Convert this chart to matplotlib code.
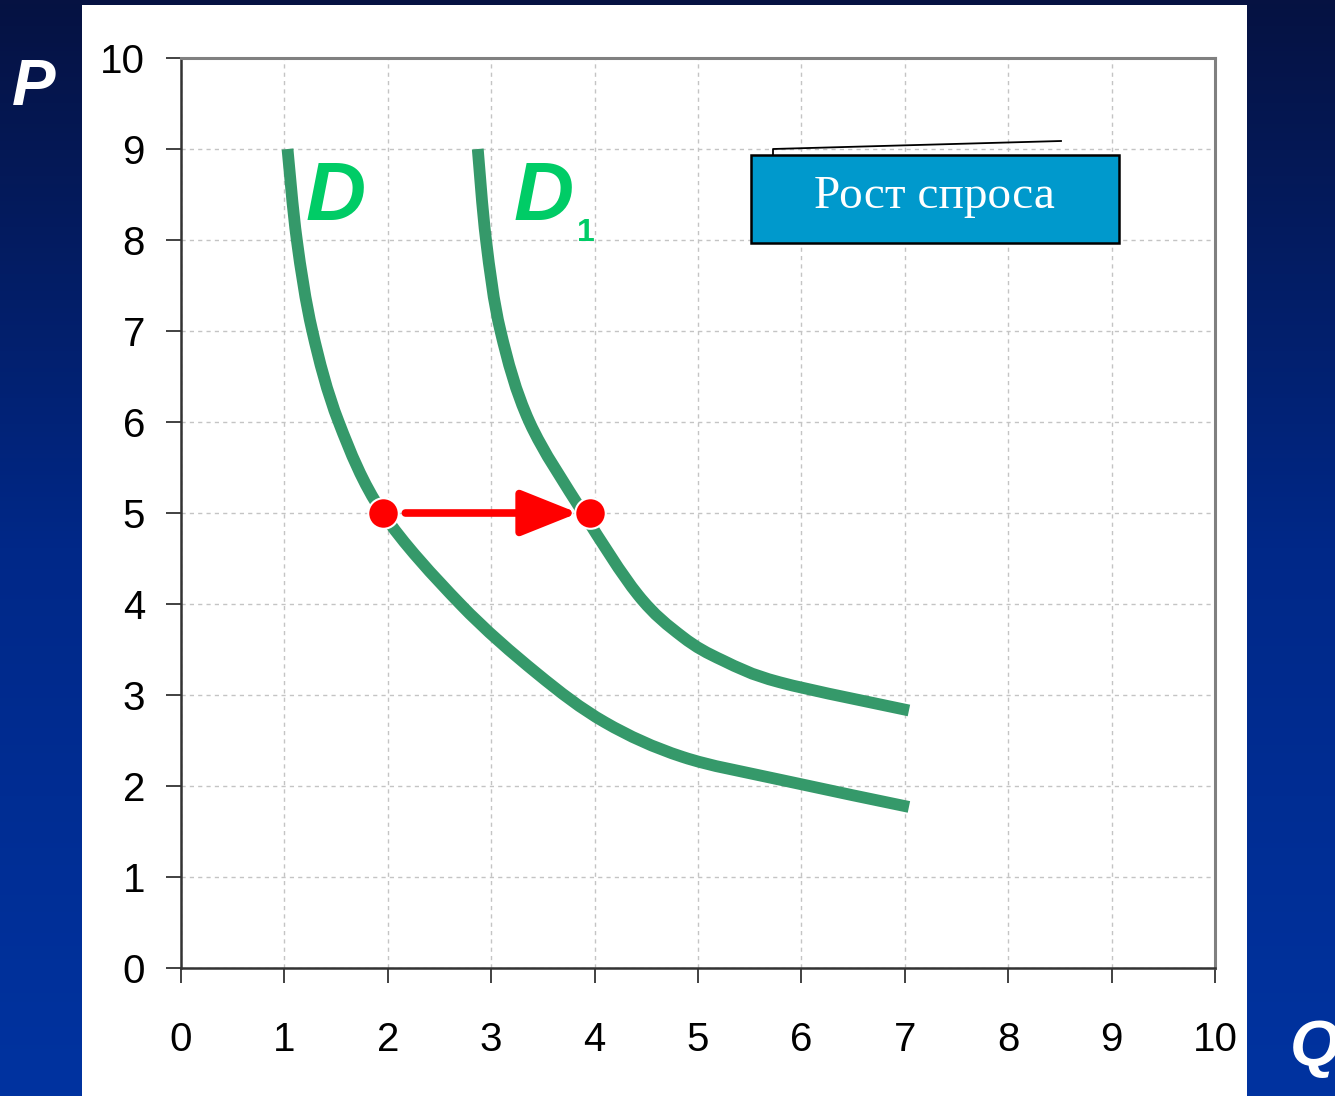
import numpy as np
import matplotlib
matplotlib.use("Agg")
import matplotlib.pyplot as plt
from matplotlib.patches import Rectangle, PathPatch
from matplotlib.path import Path
from matplotlib.lines import Line2D

# demand curves
Q_D = [1.03, 1.12, 1.27, 1.525, 1.95, 2.70, 3.44, 4.10, 4.85, 5.79, 7.04]
P_D = [9.00, 8.00, 7.00, 6.00, 5.00, 4.00, 3.24, 2.70, 2.32, 2.07, 1.77]

Q_D1 = [2.87, 2.95, 3.09, 3.37, 3.89, 4.42, 4.85, 5.24, 5.79, 7.04]
P_D1 = [9.00, 8.00, 7.00, 6.00, 5.00, 4.10, 3.64, 3.38, 3.14, 2.83]

# equilibrium points before / after
pts_Q = [1.95, 3.96]
pts_P = [5, 5]

ticks = list(range(0, 11))
box_text = "Рост спроса"


def smooth_path(xs, ys):
    # smoothed line like excel: bezier segments through the points
    p = np.column_stack([xs, ys])
    n = len(p)
    verts = [p[0]]
    codes = [Path.MOVETO]
    for i in range(n - 1):
        p0 = p[i - 1] if i > 0 else p[i]
        p3 = p[i + 2] if i + 2 < n else p[i + 1]
        c1 = p[i] + (p[i + 1] - p0) / 6
        c2 = p[i + 1] - (p3 - p[i]) / 6
        verts += [c1, c2, p[i + 1]]
        codes += [Path.CURVE4] * 3
    return Path(verts, codes)


W, H = 1335, 1096
fig = plt.figure(figsize=(W / 100, H / 100), dpi=100)

# blue gradient background
bg = fig.add_axes([0, 0, 1, 1])
top = np.array([6, 18, 66]) / 255
mid = np.array([0, 40, 136]) / 255
bot = np.array([0, 51, 160]) / 255
t = np.linspace(0, 1, 256)[:, None]
grad = np.where(t < 0.5, top + (mid - top) * (t / 0.5), mid + (bot - mid) * ((t - 0.5) / 0.5))
bg.imshow(grad[:, None, :].repeat(2, axis=1), aspect='auto', extent=[0, 1, 0, 1])
bg.set_xlim(0, 1)
bg.set_ylim(0, 1)
bg.axis('off')

# white slide panel
bg.add_patch(Rectangle((82 / W, 0), (1247 - 82) / W, (H - 5) / H, facecolor='white', edgecolor='none'))

ax = fig.add_axes([181 / W, 128 / H, 1034 / W, 910 / H])
ax.set_facecolor('white')
ax.set_xlim(0, 10)
ax.set_ylim(0, 10)
ax.set_xticks(ticks)
ax.set_yticks(ticks)
ax.grid(True, color='#c4c4c4', lw=1, linestyle=(0, (3, 3)))
ax.set_axisbelow(True)
for s in ['top', 'right']:
    ax.spines[s].set_color('#808080')
    ax.spines[s].set_linewidth(2.2)
for s in ['left', 'bottom']:
    ax.spines[s].set_color('#333333')
    ax.spines[s].set_linewidth(1.8)
ax.tick_params(axis='both', length=11, width=1.3, color='#333333', labelsize=29)
ax.tick_params(axis='y', pad=15)
ax.tick_params(axis='x', pad=27)
for lab in ax.get_xticklabels() + ax.get_yticklabels():
    lab.set_family('Liberation Sans')

green = '#35996a'
for qs, ps in [(Q_D, P_D), (Q_D1, P_D1)]:
    ax.add_patch(PathPatch(smooth_path(qs, ps), facecolor='none', edgecolor=green, lw=8.5,
                           capstyle='butt', joinstyle='round', zorder=3))

# shift arrow
ax.annotate('', xy=(pts_Q[1] - 0.12, pts_P[1]), xytext=(pts_Q[0] + 0.22, pts_P[0]),
            arrowprops=dict(arrowstyle='-|>,head_length=1.75,head_width=0.7', color='red',
                            lw=5.5, mutation_scale=20, shrinkA=0, shrinkB=0), zorder=4)
ax.plot(pts_Q, pts_P, 'o', ms=22, mfc='red', mec='white', mew=1.5, zorder=5)

lab_green = '#00cc66'
ax.text(1.2, 8.22, 'D', color=lab_green, fontsize=60, fontweight='bold', fontstyle='italic',
        family='Liberation Sans', ha='left', va='baseline', zorder=4)
ax.text(3.22, 8.22, 'D', color=lab_green, fontsize=60, fontweight='bold', fontstyle='italic',
        family='Liberation Sans', ha='left', va='baseline', zorder=4)
ax.text(3.83, 7.99, '1', color=lab_green, fontsize=23, fontweight='bold',
        family='Liberation Sans', ha='left', va='baseline', zorder=4)

# callout box
ax.add_patch(Rectangle((5.51, 7.97), 3.56, 0.96, facecolor='#0099cc', edgecolor='black', lw=1.8, zorder=4))
ax.text(7.29, 8.47, box_text, color='white', fontsize=34, family='Liberation Serif',
        ha='center', va='center', zorder=5)
fig.add_artist(Line2D([773 / W, 773 / W, 1061 / W], [(H - 155) / H, (H - 149) / H, (H - 141) / H],
                      color='black', lw=1.3))

# axis letters on the blue background
fig.text(12 / W, (H - 105) / H, 'P', color='white', fontsize=47, fontweight='bold', fontstyle='italic',
         family='Liberation Sans', ha='left', va='baseline')
fig.text(1290 / W, (H - 1066) / H, 'Q', color='white', fontsize=47, fontweight='bold', fontstyle='italic',
         family='Liberation Sans', ha='left', va='baseline')

fig.savefig('out.png', dpi=100)
